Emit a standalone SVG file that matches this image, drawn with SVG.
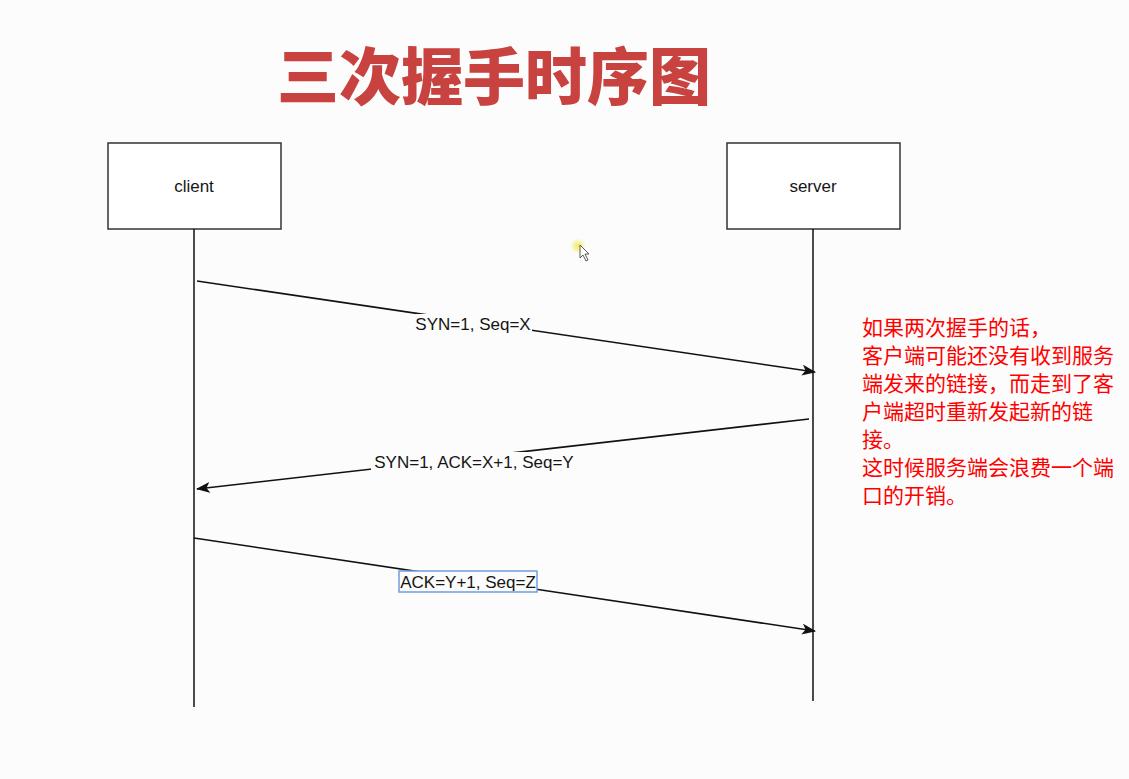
<svg xmlns="http://www.w3.org/2000/svg" width="1129" height="779" viewBox="0 0 1129 779">
  <style>
    .box { fill: #ffffff; stroke: #333333; stroke-width: 1.5; }
    .life { stroke: #111111; stroke-width: 1.5; fill: none; }
    .msg { stroke: #111111; stroke-width: 1.6; fill: none; marker-end: url(#arrow); }
    .lbl { font-family: "Liberation Sans", Arial, sans-serif; font-size: 17px; fill: #151515; text-anchor: middle; }
    .lblbg { fill: #fbfcfb; }
    .title { font-family: "Noto Sans CJK SC", sans-serif; font-weight: 900; font-size: 62px; fill: #c8423f; }
    .note { font-family: "Noto Sans CJK SC", sans-serif; font-size: 21px; fill: #ff0000; }
  </style>
  <defs>
    <marker id="arrow" viewBox="0 0 14 11" refX="13" refY="5.5" markerWidth="14" markerHeight="11" markerUnits="userSpaceOnUse" orient="auto">
      <path d="M0,0 L14,5.5 L0,11 L3.5,5.5 Z" fill="#111111"/>
    </marker>
    <radialGradient id="glow">
      <stop offset="0" stop-color="#f5e64a" stop-opacity="0.9"/>
      <stop offset="1" stop-color="#f5e64a" stop-opacity="0"/>
    </radialGradient>
  </defs>

  <rect width="1129" height="779" fill="#fbfcfb"/>

  <text class="title" x="277" y="100">三次握手时序图</text>

  <g id="client">
    <rect class="box" x="108" y="143" width="173" height="86"/>
    <text class="lbl" x="194" y="192">client</text>
    <line class="life" x1="194" y1="229" x2="194" y2="707"/>
  </g>

  <g id="server">
    <rect class="box" x="727" y="143" width="173" height="86"/>
    <text class="lbl" x="813" y="192">server</text>
    <line class="life" x1="813" y1="229" x2="813" y2="701"/>
  </g>

  <g id="connectors">
    <line class="msg" x1="197" y1="281" x2="815" y2="372"/>
    <rect class="lblbg" x="414" y="314" width="118" height="20"/>
    <text class="lbl" x="473" y="330">SYN=1, Seq=X</text>

    <line class="msg" x1="809" y1="419" x2="197" y2="489"/>
    <rect class="lblbg" x="371" y="452" width="206" height="20"/>
    <text class="lbl" x="474" y="468">SYN=1, ACK=X+1, Seq=Y</text>

    <line class="msg" x1="194" y1="538" x2="815" y2="631"/>
    <rect x="399" y="571" width="138" height="21" fill="#fbfcfb" stroke="#6f9ee0" stroke-width="1.5"/>
    <text class="lbl" x="468" y="588">ACK=Y+1, Seq=Z</text>
  </g>

  <g id="note">
    <text class="note" x="862" y="335">如果两次握手的话，</text>
    <text class="note" x="862" y="363">客户端可能还没有收到服务</text>
    <text class="note" x="862" y="391">端发来的链接，而走到了客</text>
    <text class="note" x="862" y="419">户端超时重新发起新的链</text>
    <text class="note" x="862" y="447">接。</text>
    <text class="note" x="862" y="475">这时候服务端会浪费一个端</text>
    <text class="note" x="862" y="503">口的开销。</text>
  </g>

  <g id="pointer">
    <circle cx="578" cy="246" r="8" fill="url(#glow)"/>
    <path d="M580,245 L580,258 L583,255 L586,261 L588,260 L585,254 L589,254 Z" fill="#ffffff" stroke="#333333" stroke-width="0.8"/>
  </g>
</svg>
